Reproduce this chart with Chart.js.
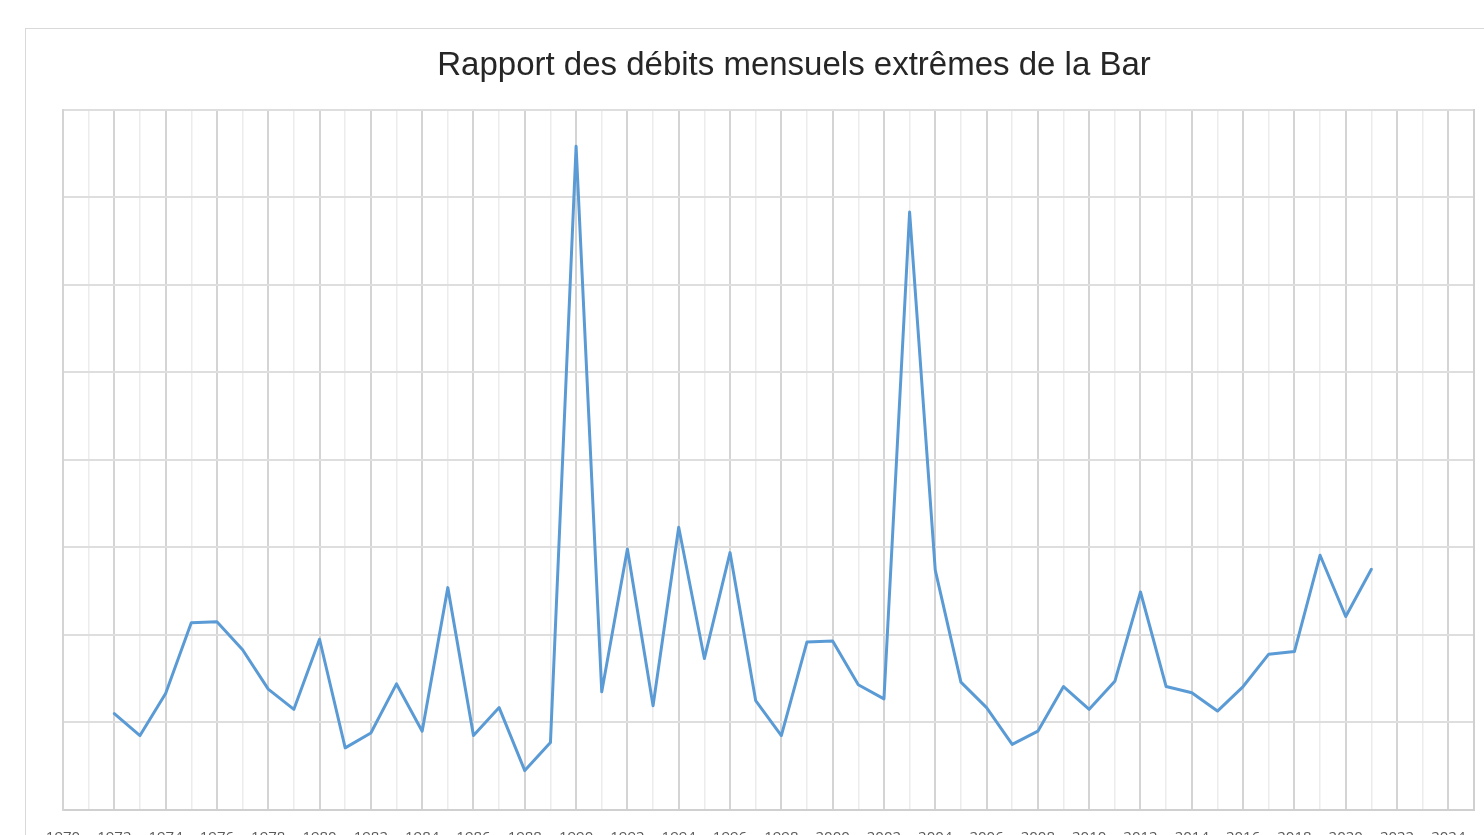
<!DOCTYPE html>
<html>
<head>
<meta charset="utf-8">
<script src="https://cdn.jsdelivr.net/npm/chart.js@4/dist/chart.umd.min.js"></script>
<style>
  html, body { margin: 0; padding: 0; background: #ffffff; overflow: hidden; width: 1484px; height: 835px; }
  #wrap { position: absolute; left: 25px; top: 28px; width: 1538px; height: 840px; border-left: 1px solid #d9d9d9; border-top: 1px solid #d9d9d9; box-sizing: border-box; }
  #c { position: absolute; left: -1px; top: -1px; }
</style>
</head>
<body>
<div id="wrap"><canvas id="c" width="1538" height="840"></canvas></div>
<script>
const titleText = "Rapport des débits mensuels extrêmes de la Bar";
const years = [1972,1973,1974,1975,1976,1977,1978,1979,1980,1981,1982,1983,1984,1985,1986,1987,1988,1989,1990,1991,1992,1993,1994,1995,1996,1997,1998,1999,2000,2001,2002,2003,2004,2005,2006,2007,2008,2009,2010,2011,2012,2013,2014,2015,2016,2017,2018,2019,2020,2021];
const ratios = [11.0,8.5,13.3,21.4,21.5,18.3,13.8,11.5,19.5,7.1,8.8,14.4,9.0,25.4,8.5,11.7,4.5,7.7,75.8,13.5,29.8,11.9,32.3,17.3,29.4,12.5,8.5,19.2,19.3,14.3,12.7,68.3,27.4,14.6,11.7,7.5,9.0,14.1,11.5,14.7,24.9,14.1,13.4,11.3,14.1,17.8,18.1,29.1,22.1,27.5];
const xMin = 1970, xMax = 2025, yMin = 0, yMax = 80, yStep = 10;

const points = years.map((y, i) => ({ x: y, y: ratios[i] }));

new Chart(document.getElementById('c'), {
  type: 'line',
  data: {
    datasets: [{
      data: points,
      borderColor: '#5b9bd5',
      borderWidth: 3,
      pointRadius: 0,
      tension: 0,
      borderJoinStyle: 'round',
      borderCapStyle: 'round'
    }]
  },
  options: {
    responsive: false,
    animation: false,
    devicePixelRatio: 1,
    layout: { padding: { left: 0, right: 0, top: 0, bottom: 2 } },
    plugins: {
      legend: { display: false },
      tooltip: { enabled: false },
      title: {
        display: true,
        text: titleText,
        color: '#262626',
        font: { family: 'Liberation Sans', size: 33, weight: 'normal' },
        padding: { top: 18, bottom: 24 }
      }
    },
    scales: {
      x: {
        type: 'linear',
        min: xMin,
        max: xMax,
        ticks: {
          stepSize: 1,
          autoSkip: false,
          maxRotation: 0,
          padding: 19,
          color: '#595959',
          font: { family: 'Open Sans', size: 15 },
          callback: (v) => (v % 2 === 0 ? String(v) : '')
        },
        grid: {
          drawTicks: false,
          color: (ctx) => (ctx.tick && ctx.tick.value % 2 === 0 ? '#d4d4d4' : '#ececec'),
          lineWidth: (ctx) => (ctx.tick && ctx.tick.value % 2 === 0 ? 2 : 1.5)
        },
        border: { display: true, color: '#d0d0d0', width: 2 }
      },
      y: {
        position: 'left',
        min: yMin,
        max: yMax,
        afterFit: (s) => { s.width = 38; },
        ticks: { stepSize: yStep, display: false },
        grid: { drawTicks: false, color: '#dedede', lineWidth: 2 },
        border: { display: true, color: '#d4d4d4', width: 2 }
      },
      yRight: {
        position: 'right',
        min: yMin,
        max: yMax,
        afterFit: (s) => { s.width = 89; },
        ticks: { display: false },
        grid: { display: false, drawTicks: false },
        border: { display: true, color: '#d0d0d0', width: 2 }
      }
    }
  }
});
</script>
</body>
</html>
